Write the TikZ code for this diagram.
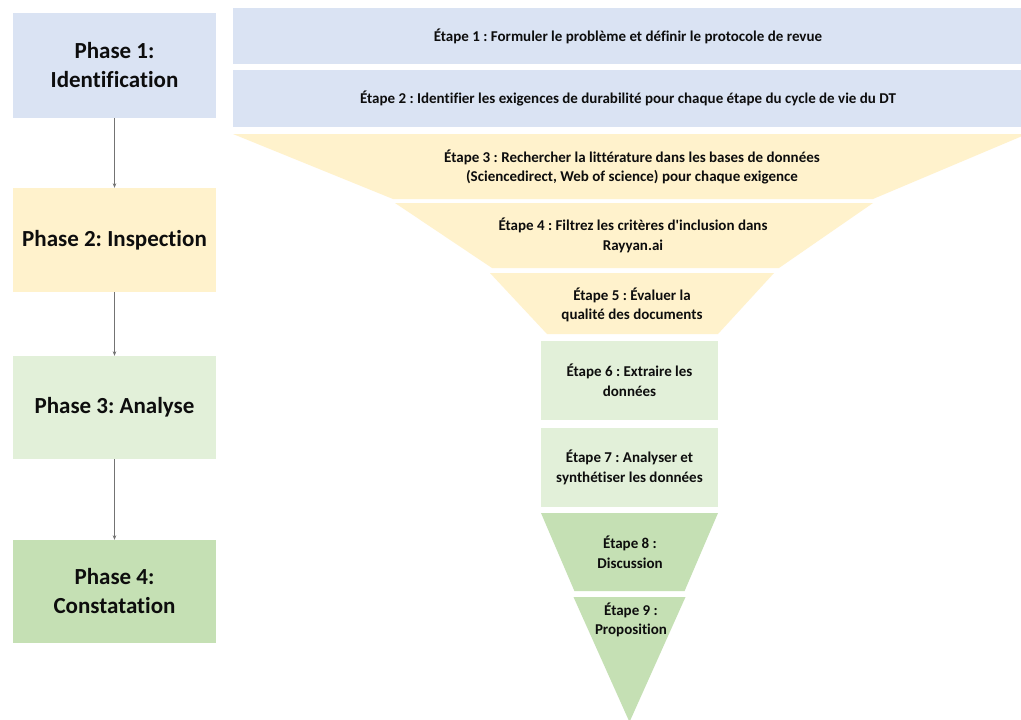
\documentclass[tikz,border=0pt]{standalone}
\usepackage{fontspec}
\setmainfont{Carlito}[Ligatures={TeXOff,NoCommon}]
\usetikzlibrary{arrows.meta}
\definecolor{cblue}{HTML}{DAE3F3}
\definecolor{cyellow}{HTML}{FFF2CC}
\definecolor{clgreen}{HTML}{E2F0D9}
\definecolor{cgreen}{HTML}{C5E0B4}
\definecolor{ctext}{HTML}{0D0D0D}
\frenchspacing
\begin{document}
\begin{tikzpicture}[x=1pt,y=-1pt,
  phase/.style={rectangle, minimum width=203pt, inner sep=0pt, align=center, text=ctext,
    font=\fontsize{23}{29}\selectfont\bfseries},
  stepbox/.style={rectangle, inner sep=0pt, align=center, text=ctext,
    font=\fontsize{15}{19.5}\selectfont\bfseries},
  steptext/.style={inner sep=0pt, align=center, text=ctext,
    font=\fontsize{15}{19.5}\selectfont\bfseries},
  flow/.style={draw=black!55, line width=0.7pt, -{Stealth[length=4.5pt,width=3.5pt]}}]
\useasboundingbox (0,0) rectangle (1021,720);
\clip (0,0) rectangle (1021,720);
\fill[white] (0,0) rectangle (1021,720);

% phases
\node[phase, fill=cblue, minimum height=105pt] (p1) at (114.5,65.5) {Phase 1:\\Identification};
\node[phase, fill=cyellow, minimum height=104pt] (p2) at (114.5,240) {Phase 2: Inspection};
\node[phase, fill=clgreen, minimum height=103pt] (p3) at (114.5,407.5) {Phase 3: Analyse};
\node[phase, fill=cgreen, minimum height=103pt] (p4) at (114.5,591.5) {Phase 4:\\Constatation};
\draw[flow] (p1) -- (p2);
\draw[flow] (p2) -- (p3);
\draw[flow] (p3) -- (p4);

% steps 1-2
\node[stepbox, fill=cblue, minimum width=790pt, minimum height=56pt] (s1) at (628,36)
  {Étape 1 : Formuler le problème et définir le protocole de revue};
\node[stepbox, fill=cblue, minimum width=790pt, minimum height=57pt] (s2) at (628,98.5)
  {Étape 2 : Identifier les exigences de durabilité pour chaque étape du cycle de vie du DT};

% funnel 3-5
\fill[cyellow] (233,134) -- (1027,134) -- (873,199) -- (393,199) -- cycle;
\node[steptext] (s3) at (632,167)
  {Étape 3 : Rechercher la littérature dans les bases de données\\(Sciencedirect, Web of science) pour chaque exigence};
\fill[cyellow] (395,203) -- (873,203) -- (779,268) -- (492,268) -- cycle;
\node[steptext] (s4) at (633,235.5)
  {Étape 4 : Filtrez les critères d'inclusion dans\\Rayyan.ai};
\fill[cyellow] (490,273) -- (774,273) -- (718,334) -- (547,334) -- cycle;
\node[steptext] (s5) at (632,305)
  {Étape 5 : Évaluer la\\qualité des documents};

% steps 6-7
\node[stepbox, fill=clgreen, minimum width=177pt, minimum height=79pt] (s6) at (629.5,380.5)
  {Étape 6 : Extraire les\\données};
\node[stepbox, fill=clgreen, minimum width=177pt, minimum height=79pt] (s7) at (629.5,467.5)
  {Étape 7 : Analyser et\\synthétiser les données};

% steps 8-9 (one triangle cut in two)
\fill[cgreen] (541,513) -- (718,513) -- (684.6,591) -- (574.4,591) -- cycle;
\node[steptext] (s8) at (630,552.5) {Étape 8 :\\Discussion};
\fill[cgreen] (573.5,597) -- (685.5,597) -- (629.5,722) -- cycle;
\node[steptext] (s9) at (631,620) {Étape 9 :\\Proposition};
\end{tikzpicture}
\end{document}
